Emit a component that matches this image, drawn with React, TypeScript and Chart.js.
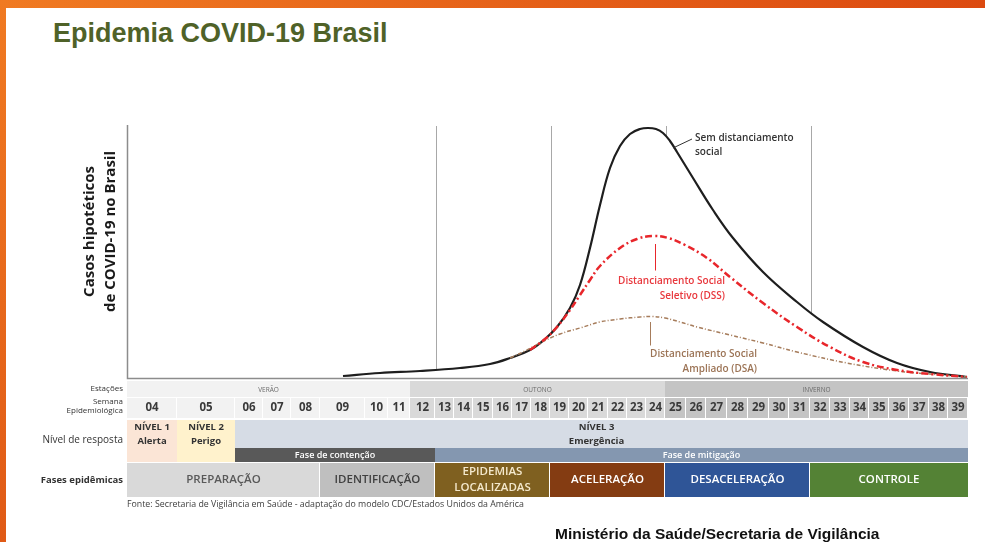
import React, { useEffect, useRef } from 'react';
import { Chart, registerables } from 'chart.js';

Chart.register(...registerables);

// ---------------- data ----------------
const weekLabels = ['04','05','06','07','08','09','10','11','12','13','14','15','16','17','18','19','20','21','22','23','24','25','26','27','28','29','30','31','32','33','34','35','36','37','38','39'];
// start of each epidemiological week on the schematic (non-uniform) time axis of the source
const weekStart = [0,50,108,136,164,193,238,261,283,308,327,346,366,385,404,423,442,461,481,500,519,538,559,579,600,621,642,662,683,703,723,742,762,782,802,821];
const timeAxisEnd = 841;

const seasonLabels = ['VERÃO', 'OUTONO', 'INVERNO'];
const seasonWeeks = [['04', '11'], ['12', '24'], ['25', '39']];

const levelLabels = [['NÍVEL 1', 'Alerta'], ['NÍVEL 2', 'Perigo'], ['NÍVEL 3', 'Emergência']];
const levelWeeks = [['04', '04'], ['05', '05'], ['06', '39']];

const phaseLabels = ['Fase de contenção', 'Fase de mitigação'];
const phaseWeeks = [['06', '12'], ['13', '39']];

const epiLabels = [['PREPARAÇÃO'], ['IDENTIFICAÇÃO'], ['EPIDEMIAS', 'LOCALIZADAS'], ['ACELERAÇÃO'], ['DESACELERAÇÃO'], ['CONTROLE']];
const epiWeeks = [['04', '08'], ['09', '12'], ['13', '18'], ['19', '24'], ['25', '31'], ['32', '39']];

const dividerWeeks = ['13', '19', '25', '32'];

// hypothetical cases (relative units, peak of no-distancing curve = 100)
const semX = [216,253,293,333,363,383,403,418,430,443,453,463,473,483,493,503,513,521,529,536,543,550,566,586,606,636,670,696,736,770,803,840];
const semY = [0.8,2.0,2.8,4.0,5.6,8.0,11.2,15.6,20.4,28.0,37.2,52.0,69.2,84.0,92.8,97.6,99.6,100,99.6,98.0,94.8,90.4,80.0,67.2,56.0,42.4,30.4,22.4,12.4,6.0,2.4,0.4];

const dssX = [403,418,430,443,453,463,473,493,510,526,541,558,580,603,636,670,703,736,770,803,840];
const dssY = [11.2,15.6,20.4,27.2,33.2,39.2,44.8,52.0,55.6,56.8,56.0,53.2,48.0,40.4,30.0,20.4,12.4,6.4,3.2,1.6,0.4];

const dsaX = [383,398,413,433,453,473,493,513,525,538,553,570,603,636,670,720,770,803,840];
const dsaY = [8.0,10.8,14.0,17.6,20.0,22.4,23.6,24.4,24.6,24.0,22.4,20.4,17.2,14.0,10.4,6.0,2.8,1.6,0.4];

const yAxisTitle = ['Casos hipotéticos', 'de COVID-19 no Brasil'];
const semLabel = ['Sem distanciamento', 'social'];
const dssLabel = ['Distanciamento Social', 'Seletivo (DSS)'];
const dsaLabel = ['Distanciamento Social', 'Ampliado (DSA)'];
const sourceNote = 'Fonte: Secretaria de Vigilância em Saúde - adaptação do modelo CDC/Estados Unidos da América';

// ---------------- styles ----------------
const FONT = '"Open Sans", "DejaVu Sans", sans-serif';
const seasonColors = ['#f2f2f2', '#d9d9d9', '#c4c4c4'];
const levelColors = ['#fbe5d6', '#fff2cc', '#d6dce5'];
const phaseColors = ['#595959', '#8497b0'];
const epiColors = ['#d9d9d9', '#bfbfbf', '#7f6020', '#843c12', '#2f5597', '#548235'];
const epiTextColors = ['#595959', '#404040', '#f4e8cc', '#ffffff', '#ffffff', '#ffffff'];
const semColor = '#1e1e1e';
const dssColor = '#e8262b';
const dsaColor = '#a67c5b';

const toPts = (xs: number[], ys: number[]) => xs.map((x, i) => ({ x, y: ys[i] }));

function weekRange(chart: any, from: string, to: string) {
  const xs = chart.scales.x;
  const i0 = weekLabels.indexOf(from);
  const i1 = weekLabels.indexOf(to);
  const end = i1 + 1 < weekStart.length ? weekStart[i1 + 1] : timeAxisEnd;
  return [xs.getPixelForValue(weekStart[i0]), xs.getPixelForValue(end)];
}

const dividerPlugin = {
  id: 'dividers',
  beforeDatasetsDraw(chart: any) {
    const { ctx, chartArea } = chart;
    ctx.save();
    ctx.strokeStyle = '#a8a8a8';
    ctx.lineWidth = 1;
    dividerWeeks.forEach((w) => {
      const [x] = weekRange(chart, w, w);
      ctx.beginPath();
      ctx.moveTo(Math.round(x) + 1.5, chartArea.top + 1);
      ctx.lineTo(Math.round(x) + 1.5, chartArea.bottom);
      ctx.stroke();
    });
    ctx.restore();
  },
};

function drawLines(ctx: any, lines: string[], x: number, y: number, lh: number) {
  lines.forEach((t, i) => ctx.fillText(t, x, y + i * lh));
}

const annotationPlugin = {
  id: 'annotations',
  afterDatasetsDraw(chart: any) {
    const { ctx, chartArea } = chart;
    const xs = chart.scales.x;
    const ys = chart.scales.y;
    ctx.save();
    // axes
    ctx.strokeStyle = '#8c8c8c';
    ctx.lineWidth = 1.5;
    ctx.beginPath();
    ctx.moveTo(chartArea.left + 0.5, chartArea.top);
    ctx.lineTo(chartArea.left + 0.5, chartArea.bottom + 0.5);
    ctx.lineTo(chartArea.right, chartArea.bottom + 0.5);
    ctx.stroke();

    ctx.textBaseline = 'middle';
    // no distancing label
    const sx = xs.getPixelForValue(546);
    const sy = ys.getPixelForValue(92);
    ctx.strokeStyle = '#333';
    ctx.lineWidth = 1;
    ctx.beginPath();
    ctx.moveTo(sx, sy);
    ctx.lineTo(sx + 19, sy - 9);
    ctx.stroke();
    ctx.fillStyle = '#333';
    ctx.font = `600 10px ${FONT}`;
    ctx.textAlign = 'left';
    drawLines(ctx, semLabel, sx + 22, sy - 10, 14);

    // DSS label
    const rx = xs.getPixelForValue(528);
    ctx.strokeStyle = dssColor;
    ctx.beginPath();
    ctx.moveTo(rx + 0.5, ys.getPixelForValue(53.6));
    ctx.lineTo(rx + 0.5, ys.getPixelForValue(43));
    ctx.stroke();
    ctx.fillStyle = '#e8383d';
    ctx.textAlign = 'right';
    drawLines(ctx, dssLabel, rx + 70, ys.getPixelForValue(38.8), 15);

    // DSA label
    const bx = xs.getPixelForValue(523);
    ctx.strokeStyle = dsaColor;
    ctx.beginPath();
    ctx.moveTo(bx + 0.5, ys.getPixelForValue(22.4));
    ctx.lineTo(bx + 0.5, ys.getPixelForValue(13));
    ctx.stroke();
    ctx.fillStyle = '#9c7456';
    drawLines(ctx, dsaLabel, bx + 107, ys.getPixelForValue(9.6), 15);

    // y axis title
    ctx.save();
    ctx.translate(chartArea.left - 27, (chartArea.top + chartArea.bottom) / 2 - 20);
    ctx.rotate(-Math.PI / 2);
    ctx.textAlign = 'center';
    ctx.fillStyle = '#1a1a1a';
    ctx.font = `bold 15px ${FONT}`;
    drawLines(ctx, yAxisTitle, 0, -10.5, 21);
    ctx.restore();
    ctx.restore();
  },
};

const tablePlugin = {
  id: 'table',
  afterDraw(chart: any) {
    const { ctx, chartArea } = chart;
    const base = chartArea.bottom;
    const labelX = chartArea.left - 4;
    ctx.save();
    ctx.textBaseline = 'middle';

    // seasons row
    const sTop = base + 3, sH = 16;
    const wTop = base + 20, wH = 20;
    seasonLabels.forEach((s, i) => {
      const [a, b] = weekRange(chart, seasonWeeks[i][0], seasonWeeks[i][1]);
      ctx.fillStyle = seasonColors[i];
      ctx.fillRect(a, sTop, b - a, sH);
      ctx.fillStyle = '#6a6a6a';
      ctx.font = `6.5px ${FONT}`;
      ctx.textAlign = 'center';
      ctx.fillText(s, (a + b) / 2, sTop + sH / 2 + 1);
      // week cells of this season
      const i0 = weekLabels.indexOf(seasonWeeks[i][0]);
      const i1 = weekLabels.indexOf(seasonWeeks[i][1]);
      for (let k = i0; k <= i1; k++) {
        const [c, d] = weekRange(chart, weekLabels[k], weekLabels[k]);
        ctx.fillStyle = seasonColors[i];
        ctx.fillRect(c, wTop, d - c - 1, wH);
        ctx.fillStyle = '#3a3a3a';
        ctx.font = `bold 11.5px ${FONT}`;
        ctx.fillText(weekLabels[k], (c + d) / 2, wTop + wH / 2);
      }
    });

    // response level row
    const lTop = base + 42;
    levelLabels.forEach((lines, i) => {
      const [a, b] = weekRange(chart, levelWeeks[i][0], levelWeeks[i][1]);
      const h = i < 2 ? 42 : 28;
      ctx.fillStyle = levelColors[i];
      ctx.fillRect(a, lTop, b - a, h);
      ctx.fillStyle = '#333';
      ctx.font = `bold 9.5px ${FONT}`;
      ctx.textAlign = 'center';
      drawLines(ctx, lines, (a + b) / 2 - (i === 2 ? 5 : 0), lTop + 7, 14);
    });

    // phase row
    const pTop = base + 70, pH = 14;
    phaseLabels.forEach((p, i) => {
      const [a, b] = weekRange(chart, phaseWeeks[i][0], phaseWeeks[i][1]);
      ctx.fillStyle = phaseColors[i];
      ctx.fillRect(a, pTop, b - a, pH);
      ctx.fillStyle = '#ffffff';
      ctx.font = `600 9px ${FONT}`;
      ctx.textAlign = 'center';
      ctx.fillText(p, (a + b) / 2, pTop + pH / 2);
    });

    // epidemic phases row
    const eTop = base + 85, eH = 34;
    epiLabels.forEach((lines, i) => {
      const [a, b] = weekRange(chart, epiWeeks[i][0], epiWeeks[i][1]);
      ctx.fillStyle = epiColors[i];
      ctx.fillRect(a, eTop, b - a - (i < epiLabels.length - 1 ? 1 : 0), eH);
      ctx.fillStyle = epiTextColors[i];
      ctx.font = `600 11.5px ${FONT}`;
      ctx.textAlign = 'center';
      const lh = 16;
      const y0 = eTop + eH / 2 - ((lines.length - 1) * lh) / 2;
      drawLines(ctx, lines, (a + b) / 2, y0, lh);
    });

    // left labels
    ctx.textAlign = 'right';
    ctx.fillStyle = '#333';
    ctx.font = `8px ${FONT}`;
    ctx.fillText('Estações', labelX, sTop + sH / 2);
    ctx.fillText('Semana', labelX, wTop + 4);
    ctx.fillText('Epidemiológica', labelX, wTop + 13);
    ctx.font = `10px ${FONT}`;
    ctx.fillText('Nível de resposta', labelX, lTop + 20);
    ctx.font = `bold 9.5px ${FONT}`;
    ctx.fillText('Fases epidêmicas', labelX, eTop + eH / 2);

    // source note
    ctx.textAlign = 'left';
    ctx.font = `8.8px ${FONT}`;
    ctx.fillStyle = '#404040';
    ctx.fillText(sourceNote, chartArea.left, eTop + eH + 7);
    ctx.restore();
  },
};

export default function App() {
  const ref = useRef<HTMLCanvasElement | null>(null);

  useEffect(() => {
    if (!ref.current) return;
    const chart = new Chart(ref.current, {
      type: 'line',
      data: {
        datasets: [
          {
            label: 'Distanciamento Social Seletivo (DSS)',
            data: toPts(dssX, dssY),
            borderColor: dssColor,
            borderWidth: 2.5,
            borderDash: [7, 3, 2, 3],
            pointRadius: 0,
            tension: 0.4,
            fill: false,
          },
          {
            label: 'Distanciamento Social Ampliado (DSA)',
            data: toPts(dsaX, dsaY),
            borderColor: dsaColor,
            borderWidth: 1.5,
            borderDash: [4, 2, 1, 2],
            pointRadius: 0,
            tension: 0.4,
            fill: false,
          },
          {
            label: 'Sem distanciamento social',
            data: toPts(semX, semY),
            borderColor: semColor,
            borderWidth: 2.2,
            pointRadius: 0,
            tension: 0.4,
            fill: 'origin',
            backgroundColor: '#ffffff',
          },
        ],
      },
      options: {
        responsive: false,
        animation: false,
        layout: { padding: { left: 127, right: 17, top: 125, bottom: 164 } },
        scales: {
          x: { type: 'linear', min: 0, max: timeAxisEnd, display: false },
          y: { type: 'linear', min: 0, max: 101.2, display: false },
        },
        plugins: {
          legend: { display: false },
          tooltip: { enabled: false },
        },
      } as any,
      plugins: [dividerPlugin, annotationPlugin, tablePlugin],
    });
    return () => chart.destroy();
  }, []);

  return (
    <div style={{ position: 'fixed', left: 0, top: 0, width: 985, height: 542, overflow: 'hidden', background: '#fff' }}>
      <div style={{ position: 'absolute', left: 0, top: 0, width: 985, height: 8, background: 'linear-gradient(90deg, #f07a22, #dc4a10)' }} />
      <div style={{ position: 'absolute', left: 0, top: 0, width: 6, height: 542, background: 'linear-gradient(180deg, #f07a22, #e05a16)' }} />
      <div
        style={{
          position: 'absolute',
          left: 53,
          top: 18,
          fontFamily: '"Liberation Sans", Arial, sans-serif',
          fontWeight: 'bold',
          fontSize: 27,
          lineHeight: '30px',
          color: '#4f6228',
          whiteSpace: 'nowrap',
        }}
      >
        Epidemia COVID-19 Brasil
      </div>
      <canvas ref={ref} width={985} height={542} style={{ position: 'absolute', left: 0, top: 0, width: 985, height: 542 }} />
      <div
        style={{
          position: 'absolute',
          left: 555,
          top: 525,
          fontFamily: '"Liberation Sans", Arial, sans-serif',
          fontWeight: 'bold',
          fontSize: 15.5,
          lineHeight: '18px',
          color: '#111',
          whiteSpace: 'nowrap',
        }}
      >
        Ministério da Saúde/Secretaria de Vigilância
      </div>
    </div>
  );
}
